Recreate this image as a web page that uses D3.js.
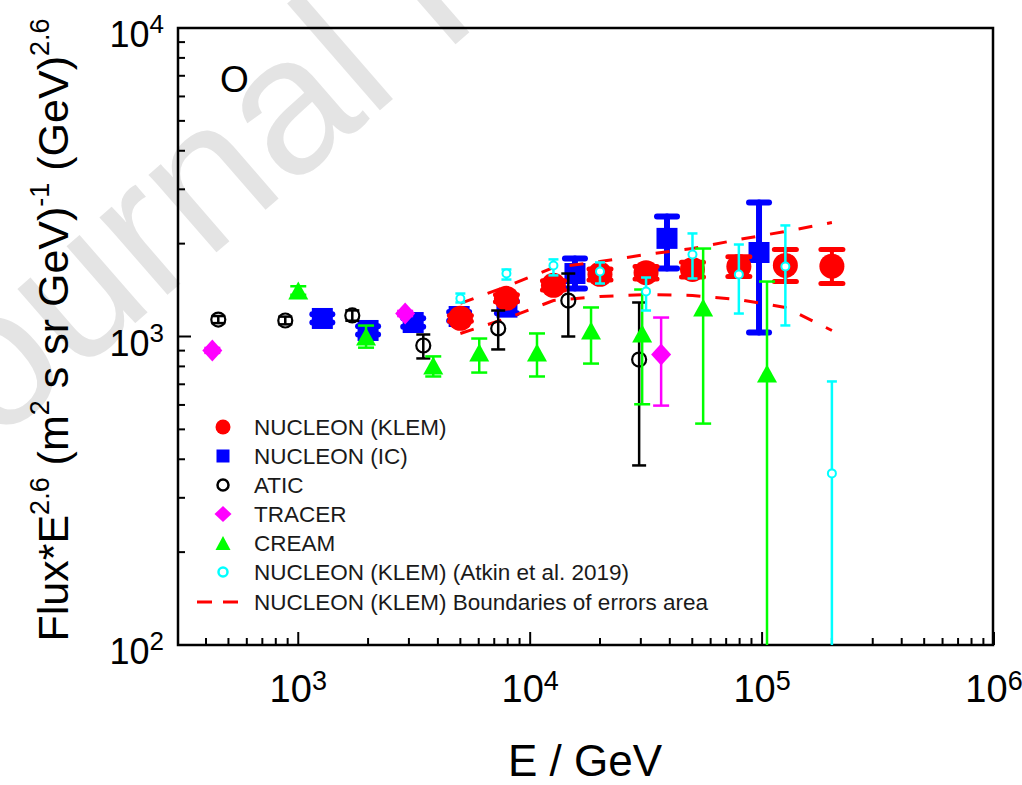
<!DOCTYPE html>
<html><head><meta charset="utf-8">
<script src="https://cdn.jsdelivr.net/npm/d3@7"></script>
<style>html,body{margin:0;padding:0;background:#fff;} svg{display:block;} text{white-space:pre;}</style>
</head><body>
<svg id="chart" width="1022" height="785"></svg>
<script>
// Oxygen spectrum, Flux * E^2.6 versus energy (GeV)
// NUCLEON (KLEM)
const klemE    = [5000, 7900, 12600, 20000, 31600, 50100, 79400, 126000, 200000];
const klemFlux = [1145, 1330, 1465, 1590, 1610, 1650, 1685, 1700, 1690];
const klemLo   = [1120, 1295, 1415, 1525, 1535, 1560, 1565, 1508, 1485];
const klemHi   = [1170, 1365, 1515, 1655, 1685, 1740, 1815, 1916, 1914];
// NUCLEON (IC)
const icE    = [1270, 2000, 3130, 4940, 7940, 15600, 38900, 97000];
const icFlux = [1144, 1046, 1110, 1161, 1245, 1600, 2080, 1872];
const icLo   = [1110, 1015, 1075, 1125, 1190, 1430, 1661, 1030];
const icHi   = [1180, 1080, 1145, 1200, 1300, 1790, 2449, 2717];
// ATIC
const aticE    = [452, 879, 1710, 3460, 7280, 14600, 29500];
const aticFlux = [1135, 1127, 1170, 935, 1062, 1308, 842];
const aticLo   = [1105, 1095, 1125, 849, 908, 1000, 382];
const aticHi   = [1165, 1160, 1215, 1015, 1214, 1600, 1289];
// TRACER
const tracerE    = [426, 2890, 36700];
const tracerFlux = [901, 1187, 875];
const tracerLo   = [885, 1165, 597];
const tracerHi   = [918, 1210, 1152];
// CREAM
const creamE    = [1000, 1960, 3820, 6030, 10700, 18300, 30400, 55700, 105000];
const creamFlux = [1409, 1000, 805, 888, 888, 1046, 1023, 1242, 759];
const creamLo   = [1365, 920, 742, 764, 742, 817, 603, 522, 50];
const creamHi   = [1455, 1085, 862, 985, 1023, 1242, 1420, 1928, 1507];
// NUCLEON (KLEM) (Atkin et al. 2019)
const atkinE    = [5000, 7900, 12600, 20000, 31600, 50100, 79400, 126000, 200000];
const atkinFlux = [1328, 1600, 1699, 1625, 1400, 1845, 1588, 1687, 360];
const atkinLo   = [1289, 1530, 1578, 1485, 1214, 1542, 1187, 1086, 50];
const atkinHi   = [1378, 1649, 1778, 1738, 1553, 2158, 1987, 2291, 715];
// NUCLEON (KLEM) boundaries of errors area
const boundE     = [5000, 7900, 12600, 20000, 31600, 50100, 79400, 126000, 200000];
const boundUpper = [1280, 1452, 1673, 1750, 1844, 1929, 2062, 2190, 2342];
const boundLower = [1023, 1144, 1308, 1348, 1368, 1358, 1318, 1242, 1046];
// axis ticks
const xMajor = [1e3, 1e4, 1e5, 1e6];
const xExp   = ["3", "4", "5", "6"];
const yMajor = [1e2, 1e3, 1e4];
const yExp   = ["2", "3", "4"];

const legendLabels = ["NUCLEON (KLEM)", "NUCLEON (IC)", "ATIC", "TRACER", "CREAM",
  "NUCLEON (KLEM) (Atkin et al. 2019)", "NUCLEON (KLEM) Boundaries of errors area"];

const FONT = "'Liberation Sans', Arial, Helvetica, sans-serif";
const svg = d3.select("#chart").style("font-family", FONT);

const L = 178, R = 993, T = 28, B = 645;
const x = d3.scaleLog().domain([300, 1e6]).range([177, 994]);
const y = d3.scaleLog().domain([100, 1e4]).range([B, T]);

// watermark
svg.append("text")
  .attr("transform", "translate(-80,510) rotate(-41)")
  .attr("font-size", 195).attr("fill", "#e4e4e4")
  .text("Journal Pre-proof");

svg.append("defs").append("clipPath").attr("id", "plotclip")
  .append("rect").attr("x", L).attr("y", T).attr("width", R - L).attr("height", B - T);

// ticks (inward)
const ax = svg.append("g");
const xMinor = [];
for (let d = 100; d < 1e6; d *= 10) for (let k = 2; k <= 9; k++) { const v = d * k; if (v > 300 && v < 1e6) xMinor.push(v); }
const yMinor = [];
for (let d = 100; d < 1e4; d *= 10) for (let k = 2; k <= 9; k++) yMinor.push(d * k);
ax.selectAll(".xmin").data(xMinor).join("line")
  .attr("x1", d => x(d)).attr("x2", d => x(d)).attr("y1", B).attr("y2", B - 7)
  .attr("stroke", "#000").attr("stroke-width", 2);
ax.selectAll(".xmaj").data(xMajor).join("line")
  .attr("x1", d => x(d)).attr("x2", d => x(d)).attr("y1", B).attr("y2", B - 13)
  .attr("stroke", "#000").attr("stroke-width", 2);
ax.selectAll(".ymin").data(yMinor).join("line")
  .attr("y1", d => y(d)).attr("y2", d => y(d)).attr("x1", L).attr("x2", L + 7)
  .attr("stroke", "#000").attr("stroke-width", 2);
ax.selectAll(".ymaj").data(yMajor).join("line")
  .attr("y1", d => y(d)).attr("y2", d => y(d)).attr("x1", L).attr("x2", L + 13)
  .attr("stroke", "#000").attr("stroke-width", 2);

// frame
svg.append("rect").attr("x", L).attr("y", T).attr("width", R - L).attr("height", B - T)
  .attr("fill", "none").attr("stroke", "#000").attr("stroke-width", 2.5);

// tick labels
xMajor.forEach((v, i) => {
  const t = svg.append("text").attr("x", x(v)).attr("y", 702).attr("text-anchor", "middle")
    .attr("font-size", 38).attr("fill", "#000");
  t.append("tspan").text("10");
  t.append("tspan").attr("dy", -12).attr("font-size", 27).text(xExp[i]);
});
yMajor.forEach((v, i) => {
  const t = svg.append("text").attr("x", 164).attr("y", y(v) + 19).attr("text-anchor", "end")
    .attr("font-size", 36).attr("fill", "#000");
  t.append("tspan").text("10");
  t.append("tspan").attr("dy", -14).attr("font-size", 26).text(yExp[i]);
});

// axis titles
svg.append("text").attr("x", 585).attr("y", 776).attr("text-anchor", "middle")
  .attr("font-size", 44).attr("fill", "#000").text("E / GeV");
const yt = svg.append("text").attr("transform", "translate(68,330) rotate(-90)")
  .attr("text-anchor", "middle").attr("font-size", 43).attr("fill", "#000");
const ySeg = [["Flux*E", 0], ["2.6", 1], [" (m", 0], ["2", 1], [" s sr GeV)", 0], ["-1", 1], [" (GeV)", 0], ["2.6", 1]];
let raised = false;
ySeg.forEach(([s, sup]) => {
  const ts = yt.append("tspan").text(s);
  if (sup) { ts.attr("font-size", 27).attr("dy", raised ? 0 : -19); raised = true; }
  else { ts.attr("dy", raised ? 19 : 0); raised = false; }
});

svg.append("text").attr("x", 220).attr("y", 92).attr("font-size", 37).attr("fill", "#000").text("O");

// data
const plot = svg.append("g").attr("clip-path", "url(#plotclip)");

function errorBars(E, lo, hi, color, sw, capW, capSw, round) {
  const g = plot.append("g").attr("stroke", color).attr("stroke-linecap", round ? "round" : "butt");
  E.forEach((e, i) => {
    const cx = x(e), y1 = y(lo[i]), y2 = y(hi[i]);
    g.append("line").attr("x1", cx).attr("x2", cx).attr("y1", y1).attr("y2", y2).attr("stroke-width", sw);
    [y1, y2].forEach(yy => g.append("line").attr("x1", cx - capW / 2).attr("x2", cx + capW / 2)
      .attr("y1", yy).attr("y2", yy).attr("stroke-width", capSw));
  });
}

function triPath(w, h) { return `M0,${-h / 2}L${w / 2},${h / 2}L${-w / 2},${h / 2}Z`; }
function diaPath(w, h) { return `M0,${-h / 2}L${w / 2},0L0,${h / 2}L${-w / 2},0Z`; }

// NUCLEON (IC)
errorBars(icE, icLo, icHi, "#0000ff", 6, 20, 6, true);
plot.append("g").selectAll("rect").data(icE).join("rect")
  .attr("x", d => x(d) - 10.5).attr("y", (d, i) => y(icFlux[i]) - 10.5)
  .attr("width", 21).attr("height", 21).attr("fill", "#0000ff");

// NUCLEON (KLEM)
errorBars(klemE, klemLo, klemHi, "#ff0000", 4, 22, 5, true);
plot.append("g").selectAll("circle").data(klemE).join("circle")
  .attr("cx", d => x(d)).attr("cy", (d, i) => y(klemFlux[i])).attr("r", 12.5).attr("fill", "#ff0000");

// boundaries of errors area
const bLine = d3.line().x(d => x(d[0])).y(d => y(d[1]));
[boundUpper, boundLower].forEach(b => {
  plot.append("path").datum(boundE.map((e, i) => [e, b[i]])).attr("d", bLine)
    .attr("fill", "none").attr("stroke", "#ff0000").attr("stroke-width", 3)
    .attr("stroke-dasharray", "14,15");
});

// ATIC
errorBars(aticE, aticLo, aticHi, "#000", 2.5, 14, 2.5, false);
plot.append("g").selectAll("circle").data(aticE).join("circle")
  .attr("cx", d => x(d)).attr("cy", (d, i) => y(aticFlux[i])).attr("r", 7)
  .attr("fill", "none").attr("stroke", "#000").attr("stroke-width", 2.2);

// TRACER
errorBars(tracerE, tracerLo, tracerHi, "#ff00ff", 2.5, 16, 2.5, false);
plot.append("g").selectAll("path").data(tracerE).join("path")
  .attr("transform", (d, i) => `translate(${x(d)},${y(tracerFlux[i])})`)
  .attr("d", diaPath(20, 22)).attr("fill", "#ff00ff");

// CREAM
errorBars(creamE, creamLo, creamHi, "#00ff00", 2.5, 16, 2.5, false);
plot.append("g").selectAll("path").data(creamE).join("path")
  .attr("transform", (d, i) => `translate(${x(d)},${y(creamFlux[i])})`)
  .attr("d", triPath(20, 18)).attr("fill", "#00ff00");

// NUCLEON (KLEM) (Atkin et al. 2019)
errorBars(atkinE, atkinLo, atkinHi, "#00ffff", 2.5, 10, 2.5, false);
plot.append("g").selectAll("circle").data(atkinE).join("circle")
  .attr("cx", d => x(d)).attr("cy", (d, i) => y(atkinFlux[i])).attr("r", 4)
  .attr("fill", "#fff").attr("stroke", "#00ffff").attr("stroke-width", 2);

// legend
const lg = svg.append("g");
const rowY = [427, 456, 485, 514, 543, 572, 602];
const sx = 223;
lg.append("circle").attr("cx", sx).attr("cy", rowY[0]).attr("r", 7.5).attr("fill", "#ff0000");
lg.append("rect").attr("x", sx - 6.5).attr("y", rowY[1] - 6.5).attr("width", 13).attr("height", 13).attr("fill", "#0000ff");
lg.append("circle").attr("cx", sx).attr("cy", rowY[2]).attr("r", 5.5).attr("fill", "none").attr("stroke", "#000").attr("stroke-width", 2.5);
lg.append("path").attr("transform", `translate(${sx},${rowY[3]})`).attr("d", diaPath(17, 16)).attr("fill", "#ff00ff");
lg.append("path").attr("transform", `translate(${sx},${rowY[4]})`).attr("d", triPath(15, 14)).attr("fill", "#00ff00");
lg.append("circle").attr("cx", sx).attr("cy", rowY[5]).attr("r", 4.5).attr("fill", "#fff").attr("stroke", "#00ffff").attr("stroke-width", 2.5);
lg.append("line").attr("x1", 197).attr("x2", 240).attr("y1", rowY[6]).attr("y2", rowY[6])
  .attr("stroke", "#ff0000").attr("stroke-width", 3).attr("stroke-dasharray", "15,11");
lg.selectAll("text").data(legendLabels).join("text")
  .attr("x", 254).attr("y", (d, i) => rowY[i] + 8).attr("font-size", 22.5).attr("fill", "#1a1a1a")
  .text(d => d);
</script>
</body></html>
